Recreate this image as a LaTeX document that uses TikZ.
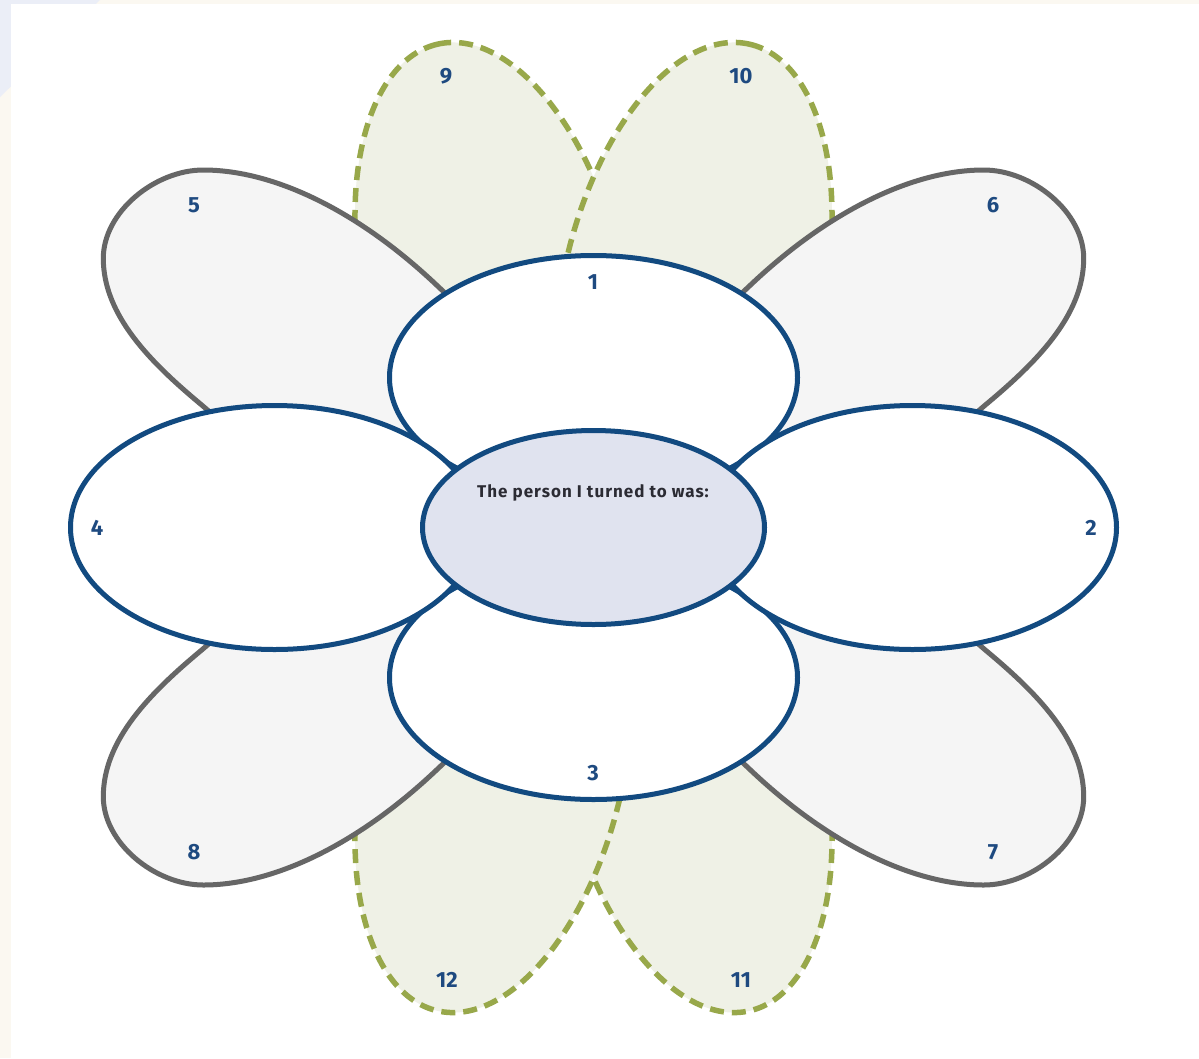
\documentclass[tikz,border=0pt]{standalone}
\usepackage{fontspec}
\setmainfont{Fira Sans}
\usetikzlibrary{shapes.geometric}
\definecolor{bluec}{HTML}{124A80}
\definecolor{centerfill}{HTML}{E0E3EF}
\definecolor{greenline}{HTML}{98A84A}
\definecolor{greenfill}{HTML}{EFF1E6}
\definecolor{grayline}{HTML}{666666}
\definecolor{grayfill}{HTML}{F5F5F5}
\definecolor{numc}{HTML}{1E4A80}
\definecolor{cream}{HTML}{FBF8F1}
\definecolor{cornerblue}{HTML}{EBEEF7}
\definecolor{textc}{HTML}{2B2B33}
\begin{document}
\begin{tikzpicture}[x=1pt,y=1pt,
  petal/.style={ellipse, inner sep=0pt, outer sep=0pt, minimum width=500pt, minimum height=260pt},
  greenpetal/.style={petal, draw=greenline, fill=greenfill, line width=5.5pt, dash pattern=on 14pt off 8pt},
  graypetal/.style={draw=grayline, fill=grayfill, line width=5pt},
  bluepetal/.style={ellipse, draw=bluec, fill=white, line width=5pt, inner sep=0pt, outer sep=0pt, minimum width=408pt, minimum height=244pt},
  heart/.style={ellipse, draw=bluec, fill=centerfill, line width=5pt, inner sep=0pt, outer sep=0pt, minimum width=342pt, minimum height=194pt},
  num/.style={font=\fontsize{22}{22}\selectfont\bfseries, text=numc, inner sep=0pt},
]
\fill[cream] (0,0) rectangle (1199,-1058);
\fill[cornerblue] (0,0) -- (100,0) -- (0,-97) -- cycle;
\fill[white] (11,-4) rectangle (1199,-1058);
\useasboundingbox (0,0) rectangle (1199,-1058);
% green petals
\node[greenpetal, rotate=103] (g9)  at (493.6,-287.8) {};
\node[greenpetal, rotate=77]  (g10) at (693.4,-287.8) {};
\node[greenpetal, rotate=103] (g11) at (693.4,-767.2) {};
\node[greenpetal, rotate=77]  (g12) at (493.6,-767.2) {};
% gray petals (5, 6, 7, 8)
\foreach \sx/\sy in {1/1, -1/1, -1/-1, 1/-1} {
  \begin{scope}[shift={(593.5,-527.5)}, xscale=\sx, yscale=\sy, shift={(-593.5,527.5)}]
    \draw[graypetal] (438.3,-286.7) .. controls (360,-212) and (275,-170) .. (203.3,-170)
      .. controls (155,-170) and (103.3,-212) .. (103.3,-258.3)
      .. controls (103.3,-315) and (150,-362) .. (201.7,-405)
      .. controls (240,-438) and (290,-480) .. (370,-515)
      .. controls (450,-550) and (540,-520) .. (530,-450)
      .. controls (520,-380) and (478.3,-323.7) .. cycle;
  \end{scope}
}
% blue petals
\node[bluepetal] (b1) at (593.5,-377.5) {};
\node[bluepetal] (b3) at (593.5,-677.5) {};
\node[bluepetal] (b4) at (274.5,-527.5) {};
\node[bluepetal] (b2) at (912.5,-527.5) {};
% centre
\node[heart] (c) at (593.5,-527.5) {};
\node[font=\fontsize{17}{17}\selectfont\bfseries\addfontfeatures{LetterSpace=6}, text=textc, inner sep=0pt] (ct) at (593,-493) {The person I turned to was:};
% numbers
\node[num] (n1) at (593,-282) {1};
\node[num] (n2) at (1091,-528) {2};
\node[num] (n3) at (593,-773) {3};
\node[num] (n4) at (97,-528) {4};
\node[num] (n5) at (194,-205) {5};
\node[num] (n6) at (993,-205) {6};
\node[num] (n7) at (993,-852) {7};
\node[num] (n8) at (194,-852) {8};
\node[num] (n9) at (446,-76) {9};
\node[num] (n10) at (741,-76) {10};
\node[num] (n11) at (741,-980) {11};
\node[num] (n12) at (447,-980) {12};
\end{tikzpicture}
\end{document}
